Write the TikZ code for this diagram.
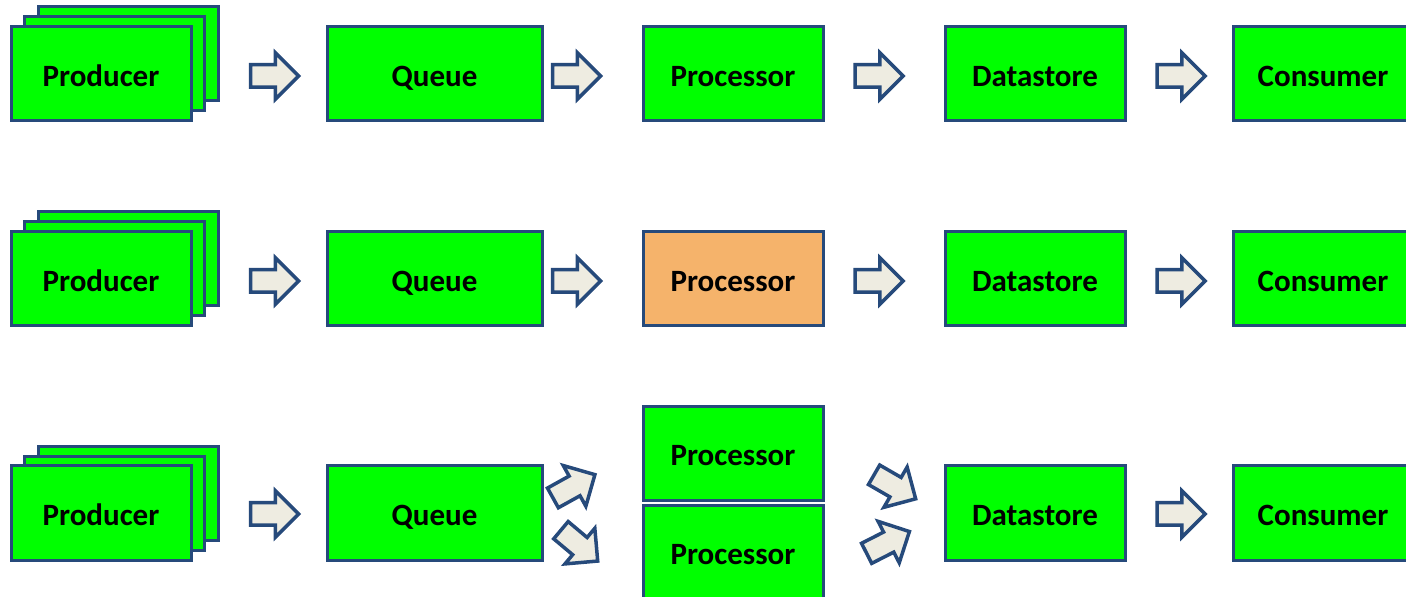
\documentclass[tikz,border=0pt]{standalone}
\usepackage{fontspec}
\setmainfont{Carlito}
\usetikzlibrary{shapes.arrows}

\definecolor{boxgreen}{HTML}{00FF00}
\definecolor{busyorange}{HTML}{F5B36B}
\definecolor{edgeblue}{HTML}{264A7B}
\definecolor{arrowgrey}{HTML}{EEECE1}

\begin{document}
\begin{tikzpicture}[x=0.5pt,y=-0.5pt]
    \useasboundingbox (0,0) rectangle (1406,597);
    \begin{scope}[
            every node/.style={draw=edgeblue, line width=1.5pt, font=\bfseries\fontsize{15.5}{18}\selectfont},
            box/.style={fill=boxgreen, minimum width=90pt, minimum height=47pt, text height=13.5pt, text depth=1pt},
            wide/.style={box, minimum width=107.5pt},
            busy/.style={box, fill=busyorange},
            flow/.style={single arrow, fill=arrowgrey, line width=1.75pt, inner xsep=0pt, inner ysep=4.75pt,
                         minimum height=24pt, single arrow head extend=6pt, single arrow head indent=0pt},
        ]

        % first row
        \node[box] (prodA3) at (128,54) {};
        \node[box] (prodA2) at (114,64) {};
        \node[box] (prodA) at (101,74) {Producer};
        \node[wide] (queueA) at (434.5,74) {Queue};
        \node[box] (procA) at (733,74) {Processor};
        \node[box] (storeA) at (1035,74) {Datastore};
        \node[box] (consA) at (1323,74) {Consumer};

        \node[flow] (fA1) at (269,76) {};
        \node[flow] (fA2) at (571,76) {};
        \node[flow] (fA3) at (873.5,76) {};
        \node[flow] (fA4) at (1175.5,76) {};

        % second row
        \node[box] (prodB3) at (128,259) {};
        \node[box] (prodB2) at (114,269) {};
        \node[box] (prodB) at (101,279) {Producer};
        \node[wide] (queueB) at (434.5,279) {Queue};
        \node[busy] (procB) at (733,279) {Processor};
        \node[box] (storeB) at (1035,279) {Datastore};
        \node[box] (consB) at (1323,279) {Consumer};

        \node[flow] (fB1) at (269,281) {};
        \node[flow] (fB2) at (571,281) {};
        \node[flow] (fB3) at (873.5,281) {};
        \node[flow] (fB4) at (1175.5,281) {};

        % third row
        \node[box] (prodC3) at (128,494) {};
        \node[box] (prodC2) at (114,504) {};
        \node[box] (prodC) at (101,513) {Producer};
        \node[wide] (queueC) at (434.5,513) {Queue};
        \node[box] (procC) at (733,453.5) {Processor};
        \node[box] (procD) at (733,552.5) {Processor};
        \node[box] (storeC) at (1035,513) {Datastore};
        \node[box] (consC) at (1323,513) {Consumer};

        \node[flow] (fC1) at (269,514) {};
        \node[flow, rotate=29] (fC2) at (569,489) {};
        \node[flow, rotate=-40] (fC3) at (575,542) {};
        \node[flow, rotate=-30] (fC4) at (890,484) {};
        \node[flow, rotate=27] (fC5) at (883,545) {};
        \node[flow] (fC6) at (1175.5,514) {};
    \end{scope}
\end{tikzpicture}
\end{document}
